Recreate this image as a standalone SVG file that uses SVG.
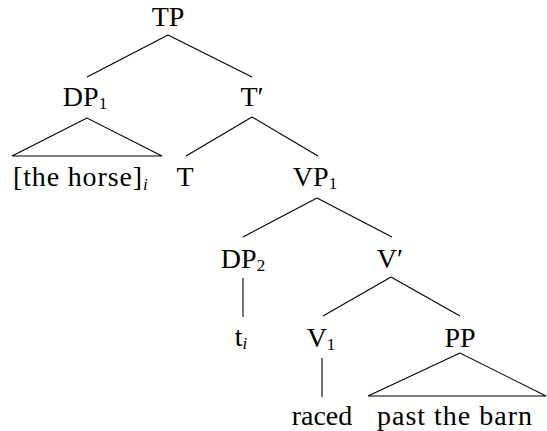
<svg xmlns="http://www.w3.org/2000/svg" width="547" height="431" viewBox="0 0 547 431">
<rect width="547" height="431" fill="#fff"/>
<g id="connectors" stroke="#000" stroke-width="1.1" fill="none">
<line x1="168" y1="35" x2="87" y2="77"/>
<line x1="168" y1="35" x2="252" y2="77"/>
<polygon points="87,118 12,156 162,156"/>
<line x1="252" y1="117" x2="186" y2="156"/>
<line x1="252" y1="117" x2="318" y2="156"/>
<line x1="317" y1="198" x2="243" y2="237"/>
<line x1="317" y1="198" x2="392" y2="237"/>
<line x1="243" y1="278" x2="243" y2="317"/>
<line x1="391" y1="277" x2="323" y2="316"/>
<line x1="391" y1="277" x2="460" y2="316"/>
<line x1="322" y1="358" x2="322" y2="397"/>
<polygon points="460,353 368,396 546,396"/>
</g>
<g id="TP"><text font-family="Times New Roman" font-size="28" text-anchor="middle" x="168" y="26">TP</text></g>
<g id="DP1"><text font-family="Times New Roman" font-size="28" text-anchor="middle" x="85" y="106">DP<tspan font-size="17" dy="3">1</tspan></text></g>
<g id="Tbar"><text font-family="Times New Roman" font-size="28" text-anchor="middle" x="252" y="106">T′</text></g>
<g id="the-horse"><text font-family="Times New Roman" font-size="28" x="13" y="186" textLength="129" lengthAdjust="spacing">[the horse]</text><text font-family="Times New Roman" font-size="17" font-style="italic" x="143" y="190">i</text></g>
<g id="T"><text font-family="Times New Roman" font-size="28" text-anchor="middle" x="185" y="186">T</text></g>
<g id="VP1"><text font-family="Times New Roman" font-size="28" text-anchor="middle" x="315" y="186">VP<tspan font-size="17" dy="3">1</tspan></text></g>
<g id="DP2"><text font-family="Times New Roman" font-size="28" text-anchor="middle" x="243" y="268">DP<tspan font-size="17" dy="3">2</tspan></text></g>
<g id="Vbar"><text font-family="Times New Roman" font-size="28" text-anchor="middle" x="390" y="268">V′</text></g>
<g id="trace"><text font-family="Times New Roman" font-size="28" text-anchor="middle" x="241" y="346">t<tspan font-size="17" font-style="italic" dy="3">i</tspan></text></g>
<g id="V1"><text font-family="Times New Roman" font-size="28" text-anchor="middle" x="321" y="347">V<tspan font-size="17" dy="3">1</tspan></text></g>
<g id="PP"><text font-family="Times New Roman" font-size="28" text-anchor="middle" x="460" y="347">PP</text></g>
<g id="raced"><text font-family="Times New Roman" font-size="28" text-anchor="middle" x="322" y="425">raced</text></g>
<g id="past-the-barn"><text font-family="Times New Roman" font-size="28" x="377" y="425" textLength="155" lengthAdjust="spacing">past the barn</text></g>
</svg>
